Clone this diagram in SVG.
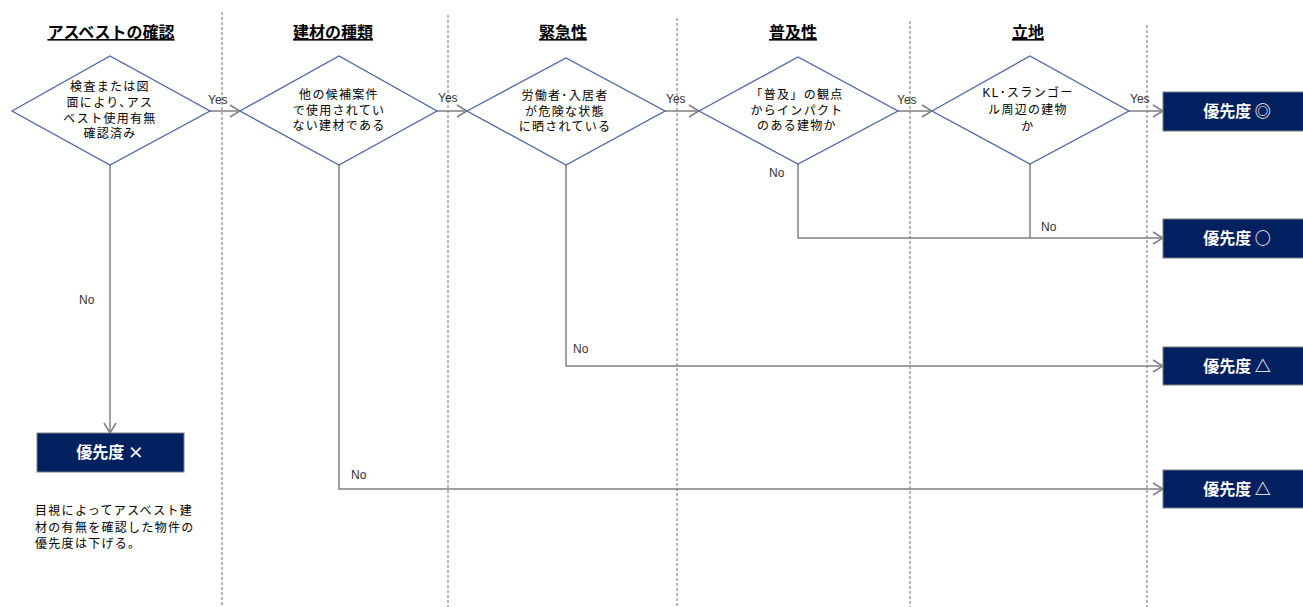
<svg xmlns="http://www.w3.org/2000/svg" width="1303" height="607" viewBox="0 0 1303 607">
<style>
.lane{stroke:#6e6e6e;stroke-width:1;stroke-dasharray:3,2;fill:none}
.hdr{font-family:"Liberation Sans","Noto Sans CJK JP",sans-serif;font-size:16px;font-weight:bold;fill:#000;text-anchor:middle;text-decoration:underline}
.dia{fill:#fff;stroke:#4a67a1;stroke-width:1.3}
.dt{font-family:"Liberation Sans","Noto Sans CJK JP",sans-serif;font-size:12px;fill:#000;text-anchor:middle;letter-spacing:1.3px}
.box{fill:#002060;stroke:#7f7f7f;stroke-width:1}
.bt{font-family:"Noto Sans CJK JP",sans-serif;font-size:16px;font-weight:bold;fill:#fff;text-anchor:middle}
.con{stroke:#808080;stroke-width:1.5;fill:none}
.lbl{font-family:"Liberation Sans","Noto Sans CJK JP",sans-serif;font-size:12px;fill:#333}
.note{font-family:"Liberation Sans","Noto Sans CJK JP",sans-serif;font-size:12px;fill:#000;letter-spacing:1.3px}
</style>
<defs>
<marker id="arr" markerUnits="userSpaceOnUse" markerWidth="12" markerHeight="14" refX="11" refY="7" orient="auto">
<path d="M1,1 L11,7 L1,13" fill="none" stroke="#808080" stroke-width="1.5"/>
</marker>
</defs>
<rect width="1303" height="607" fill="#fff"/>
<g id="lanes">
<line class="lane" x1="222" y1="12" x2="222" y2="607"/>
<line class="lane" x1="448" y1="15" x2="448" y2="607"/>
<line class="lane" x1="677" y1="18" x2="677" y2="607"/>
<line class="lane" x1="910" y1="21" x2="910" y2="607"/>
<line class="lane" x1="1147" y1="25" x2="1147" y2="607"/>
</g>
<g id="headers">
<text class="hdr" x="111" y="38">アスベストの確認</text>
<text class="hdr" x="333" y="38">建材の種類</text>
<text class="hdr" x="563" y="38">緊急性</text>
<text class="hdr" x="793" y="38">普及性</text>
<text class="hdr" x="1028" y="38">立地</text>
</g>
<g id="connectors">
<line class="con" x1="210" y1="111" x2="240" y2="111" marker-end="url(#arr)"/>
<line class="con" x1="437" y1="111" x2="467" y2="111" marker-end="url(#arr)"/>
<line class="con" x1="665" y1="111" x2="699" y2="111" marker-end="url(#arr)"/>
<line class="con" x1="898" y1="111" x2="932" y2="111" marker-end="url(#arr)"/>
<line class="con" x1="1129" y1="111" x2="1163" y2="111" marker-end="url(#arr)"/>
<polyline class="con" points="110,165 110,433" marker-end="url(#arr)"/>
<polyline class="con" points="339,165 339,489 1163,489" marker-end="url(#arr)"/>
<polyline class="con" points="566,165 566,366 1163,366" marker-end="url(#arr)"/>
<polyline class="con" points="798,164 798,238 1163,238" marker-end="url(#arr)"/>
<polyline class="con" points="1030,164 1030,238"/>
<text class="lbl" x="208" y="104">Yes</text>
<text class="lbl" x="438" y="102">Yes</text>
<text class="lbl" x="666" y="103">Yes</text>
<text class="lbl" x="897" y="104">Yes</text>
<text class="lbl" x="1130" y="103">Yes</text>
<text class="lbl" x="79" y="304">No</text>
<text class="lbl" x="351" y="479">No</text>
<text class="lbl" x="573" y="353">No</text>
<text class="lbl" x="769" y="177">No</text>
<text class="lbl" x="1041" y="231">No</text>
</g>
<g id="d1">
<polygon class="dia" points="12,111 110,56 210,111 110,165"/>
<text class="dt" x="110" y="91">検査または図</text>
<text class="dt" x="110" y="107">面により､アス</text>
<text class="dt" x="110" y="123">ベスト使用有無</text>
<text class="dt" x="110" y="138">確認済み</text>
</g>
<g id="d2">
<polygon class="dia" points="240,111 339,56 437,111 339,165"/>
<text class="dt" x="339" y="99">他の候補案件</text>
<text class="dt" x="339" y="115">で使用されてい</text>
<text class="dt" x="339" y="130">ない建材である</text>
</g>
<g id="d3">
<polygon class="dia" points="467,111 566,58 665,111 566,165"/>
<text class="dt" x="565" y="100">労働者･入居者</text>
<text class="dt" x="565" y="116">が危険な状態</text>
<text class="dt" x="565" y="131">に晒されている</text>
</g>
<g id="d4">
<polygon class="dia" points="699,111 798,57 898,111 798,164"/>
<text class="dt" x="797" y="99">「普及」の観点</text>
<text class="dt" x="797" y="115">からインパクト</text>
<text class="dt" x="797" y="130">のある建物か</text>
</g>
<g id="d5">
<polygon class="dia" points="932,111 1030,56 1129,111 1030,164"/>
<text class="dt" x="1028" y="97">KL･スランゴー</text>
<text class="dt" x="1028" y="114">ル周辺の建物</text>
<text class="dt" x="1028" y="131">か</text>
</g>
<g id="p1">
<rect class="box" x="1163" y="92" width="141" height="39"/>
<text class="bt" x="1237" y="117">優先度 ◎</text>
</g>
<g id="p2">
<rect class="box" x="1163" y="219" width="141" height="39"/>
<text class="bt" x="1237" y="244">優先度 ○</text>
</g>
<g id="p3">
<rect class="box" x="1163" y="347" width="141" height="38"/>
<text class="bt" x="1237" y="372">優先度 △</text>
</g>
<g id="p4">
<rect class="box" x="1163" y="470" width="141" height="38"/>
<text class="bt" x="1237" y="495">優先度 △</text>
</g>
<g id="px">
<rect class="box" x="37" y="433" width="147" height="39"/>
<text class="bt" x="110" y="458">優先度 ×</text>
</g>
<g id="note">
<text class="note" x="35" y="515">目視によってアスベスト建</text>
<text class="note" x="35" y="532">材の有無を確認した物件の</text>
<text class="note" x="35" y="548">優先度は下げる。</text>
</g>
</svg>
